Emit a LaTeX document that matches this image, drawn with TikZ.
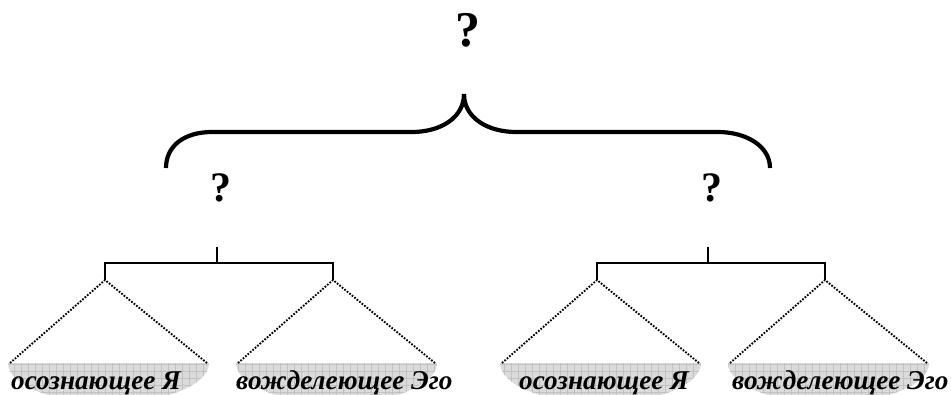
\documentclass[tikz,border=0pt]{standalone}
\usepackage{fontspec}
\setmainfont{Liberation Serif}
\begin{document}
\begin{tikzpicture}[x=1pt,y=-1pt,
  brace/.style={line width=4.2pt},
  branch/.style={line width=1.7pt},
  stemline/.style={line width=2.8pt},
  dots/.style={line width=1.9pt, dash pattern=on 1.7pt off 1.5pt},
  shade/.style={fill=black!14},
  gridline/.style={draw=black!24, line width=0.45pt},
  bigq/.style={font=\fontsize{50}{50}\selectfont\bfseries, inner sep=0pt},
  smallq/.style={font=\fontsize{42}{42}\selectfont\bfseries, inner sep=0pt},
  leaf/.style={font=\fontsize{27.2}{27.2}\selectfont\bfseries\itshape, inner sep=0pt, anchor=base west}]
\useasboundingbox (0,0) rectangle (951,394);

% question marks
\node[bigq]   (qtop)   at (468,30)  {?};
\node[smallq] (qleft)  at (221,188) {?};
\node[smallq] (qright) at (712,188) {?};

% the curly brace
\coordinate (bl)  at (166,168);
\coordinate (br)  at (770,168);
\coordinate (cusp) at (464,94);
\draw[brace] (bl) .. controls (166,146) and (184,132) .. (212,132)
  -- (412,132) .. controls (440,132) and (464,118) .. (cusp);
\draw[brace] (cusp) .. controls (464,118) and (488,132) .. (516,132)
  -- (718,132) .. controls (746,132) and (770,146) .. (br);

% shaded half-discs under each triangle, with a fine grid
\foreach \ax in {105,333,597,825}{
  \pgfmathsetmacro{\L}{\ax-95}
  \pgfmathsetmacro{\R}{\ax+102}
  \pgfmathsetmacro{\rx}{(\R-\L)/2+2}
  \begin{scope}
    \clip (\L-2,363) arc[start angle=180, end angle=0, x radius=\rx, y radius=40] -- cycle;
    \fill[shade] (\L-4,360) rectangle (\R+4,410);
    \draw[gridline, step=7pt] (\L-4,363) grid (\R+4,410);
  \end{scope}
}

% the two trees: stem, cross-bar, drops, dotted triangles
\foreach \t/\sx/\ax/\bx in {l/217/105/333, r/708/597/825}{
  \coordinate (top\t) at (\sx,247);
  \coordinate (mid\t) at (\sx,263);
  \coordinate (ja\t) at (\ax,263);
  \coordinate (jb\t) at (\bx,263);
  \coordinate (pa\t) at (\ax,280);
  \coordinate (pb\t) at (\bx,280);
  \draw[stemline] (top\t) -- (mid\t);
  \draw[branch] (pa\t) -- (ja\t) -- (jb\t) -- (pb\t);
  \coordinate (aL\t) at (\ax-95,363);
  \coordinate (aR\t) at (\ax+102,363);
  \coordinate (bL\t) at (\bx-95,363);
  \coordinate (bR\t) at (\bx+102,363);
  \draw[dots] (aL\t) -- (pa\t) -- (aR\t);
  \draw[dots] (bL\t) -- (pb\t) -- (bR\t);
}

% leaf labels
\node[leaf] (l1) at (11,389)  {осознающее Я};
\node[leaf] (l2) at (236,389) {вожделеющее Эго};
\node[leaf] (l3) at (519,389) {осознающее Я};
\node[leaf] (l4) at (732,389) {вожделеющее Эго};
\end{tikzpicture}
\end{document}
